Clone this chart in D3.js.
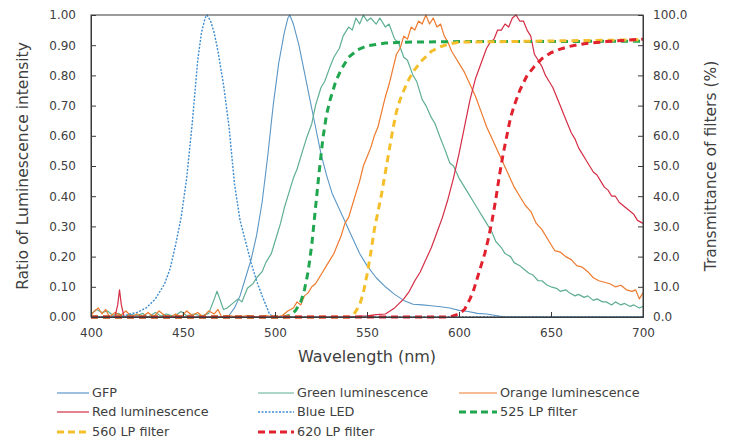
<!DOCTYPE html>
<html>
<head>
<meta charset="utf-8">
<script src="https://cdn.jsdelivr.net/npm/d3@7"></script>
<style>
  body { margin: 0; background: #fff; }
  text { font-family: "DejaVu Sans", sans-serif; fill: #404040; }
</style>
</head>
<body>
<div id="chart"></div>
<script>
// chart size
const width = 729;
const height = 441;
const margin = { top: 15, right: 86, bottom: 124, left: 91 };

// tick labels
const xTicks = [400, 450, 500, 550, 600, 650, 700];
const yLeftTicks = [0, 0.1, 0.2, 0.3, 0.4, 0.5, 0.6, 0.7, 0.8, 0.9, 1.0];
const yRightTicks = [0, 10, 20, 30, 40, 50, 60, 70, 80, 90, 100];

// spectra, [wavelength nm, ratio]
const gfp = [[400,0],[470,0],[475,0.005],[478,0.03],[481,0.07],[484,0.13],[487,0.19],[490,0.27],[493,0.38],[496,0.53],[499,0.70],[502,0.84],[505,0.94],[507,0.99],[508,1.0],[510,0.97],[513,0.90],[516,0.81],[519,0.72],[522,0.63],[525,0.54],[528,0.47],[531,0.41],[534,0.37],[537,0.33],[540,0.29],[543,0.25],[546,0.21],[550,0.17],[555,0.13],[560,0.10],[565,0.075],[570,0.055],[575,0.042],[580,0.04],[585,0.037],[590,0.034],[595,0.03],[600,0.022],[605,0.018],[610,0.012],[615,0.01],[620,0.005],[625,0],[700,0]];

const green = [[400,0.01],[403,0.025],[406,0.015],[409,0.02],[412,0.005],[415,0.012],[418,0.0],[421,0.01],[425,0.004],[428,0.012],[431,0.0],[435,0.015],[438,0.003],[441,0.01],[445,0.002],[449,0.018],[452,0.004],[456,0.01],[460,0.003],[464,0.012],[467,0.06],[468.5,0.085],[470,0.06],[472,0.025],[474,0.03],[477,0.045],[480,0.06],[482,0.05],[485,0.095],[488,0.11],[490,0.13],[493,0.15],[495,0.18],[498,0.21],[500,0.25],[503,0.31],[505,0.36],[507,0.40],[510,0.46],[512,0.49],[515,0.55],[517,0.59],[520,0.64],[522,0.70],[525,0.76],[527,0.78],[530,0.83],[532,0.86],[535,0.89],[537,0.93],[540,0.96],[542,0.95],[544,0.99],[546,0.97],[548,1.00],[550,0.98],[552,0.99],[555,0.97],[557,0.99],[560,0.96],[562,0.97],[565,0.92],[567,0.91],[570,0.86],[572,0.85],[575,0.80],[577,0.78],[580,0.72],[582,0.70],[585,0.66],[587,0.64],[590,0.59],[592,0.56],[595,0.51],[597,0.50],[600,0.46],[603,0.43],[605,0.41],[608,0.38],[610,0.36],[613,0.33],[615,0.31],[618,0.28],[620,0.25],[623,0.23],[625,0.21],[628,0.20],[630,0.18],[633,0.17],[635,0.16],[638,0.145],[640,0.14],[643,0.12],[645,0.12],[648,0.105],[650,0.10],[653,0.095],[655,0.085],[658,0.09],[660,0.08],[663,0.07],[665,0.075],[668,0.065],[670,0.07],[673,0.055],[675,0.06],[678,0.05],[680,0.05],[683,0.04],[685,0.05],[688,0.04],[690,0.045],[693,0.035],[695,0.04],[698,0.03],[700,0.035]];

const orange = [[400,0.005],[402,0.02],[404,0.03],[406,0.01],[408,0.025],[410,0.0],[413,0.015],[416,0.005],[419,0.02],[422,0.0],[425,0.01],[428,0.0],[431,0.015],[434,0.0],[437,0.02],[440,0.005],[443,0.0],[446,0.01],[449,0.0],[452,0.02],[455,0.005],[458,0.015],[461,0.0],[464,0.02],[467,0.01],[469,0.025],[471,0.0],[475,0.005],[480,0.0],[485,0.005],[490,0.0],[495,0.005],[500,0.0],[504,0.005],[507,0.02],[510,0.03],[512,0.05],[514,0.04],[516,0.07],[518,0.08],[520,0.10],[522,0.11],[524,0.13],[526,0.15],[528,0.17],[530,0.19],[532,0.21],[534,0.24],[536,0.27],[538,0.31],[540,0.33],[542,0.37],[544,0.41],[546,0.45],[548,0.50],[550,0.53],[552,0.56],[554,0.60],[556,0.63],[558,0.68],[560,0.73],[562,0.77],[564,0.82],[566,0.87],[568,0.89],[570,0.93],[572,0.92],[574,0.96],[576,0.95],[578,0.98],[580,0.97],[582,1.00],[584,0.97],[586,0.99],[588,0.96],[590,0.97],[592,0.93],[594,0.91],[596,0.88],[598,0.86],[600,0.84],[603,0.81],[606,0.77],[609,0.73],[612,0.68],[615,0.63],[618,0.59],[621,0.55],[624,0.51],[627,0.47],[630,0.43],[633,0.40],[636,0.37],[639,0.35],[642,0.31],[645,0.29],[648,0.26],[650,0.24],[652,0.22],[655,0.215],[658,0.20],[661,0.19],[664,0.17],[667,0.165],[670,0.15],[673,0.13],[676,0.12],[679,0.115],[682,0.11],[685,0.10],[688,0.105],[691,0.09],[694,0.085],[696,0.09],[698,0.06],[700,0.08]];

const red = [[400,0],[413,0],[414.5,0.04],[415.5,0.09],[416.5,0.04],[418,0],[540,0],[545,0.002],[550,0.004],[555,0.008],[560,0.01],[565,0.03],[570,0.06],[573,0.085],[576,0.12],[579,0.15],[582,0.19],[585,0.23],[588,0.28],[591,0.33],[594,0.39],[597,0.46],[600,0.54],[603,0.63],[606,0.72],[609,0.79],[612,0.84],[615,0.89],[617,0.91],[619,0.92],[621,0.95],[623,0.95],[625,0.97],[627,0.96],[629,0.99],[631,1.00],[633,0.98],[635,0.98],[637,0.95],[639,0.93],[641,0.87],[643,0.85],[645,0.83],[647,0.80],[649,0.78],[651,0.76],[653,0.73],[655,0.70],[657,0.67],[659,0.64],[661,0.61],[663,0.59],[665,0.56],[667,0.54],[669,0.52],[671,0.50],[673,0.48],[675,0.47],[677,0.45],[679,0.43],[681,0.42],[683,0.40],[685,0.40],[687,0.38],[689,0.37],[691,0.36],[693,0.35],[695,0.34],[697,0.32],[700,0.31]];

const blueLed = [[400,0],[415,0],[418,0.003],[420,0.008],[425,0.015],[430,0.03],[435,0.06],[440,0.11],[443,0.16],[446,0.24],[449,0.33],[452,0.46],[455,0.64],[458,0.85],[460,0.94],[462,0.99],[463,1.0],[465,0.98],[467,0.94],[469,0.88],[472,0.77],[475,0.63],[478,0.44],[481,0.32],[484,0.25],[487,0.18],[490,0.12],[493,0.07],[495,0.04],[497,0.01],[499,0],[700,0]];

// filters, [wavelength nm, transmittance %]
const lp525 = [[400,0],[505,0],[508,0.5],[511,2],[514,5],[516,9],[518,15],[520,24],[522,36],[524,48],[526,59],[528,67],[530,72],[533,78],[536,82],[540,86],[545,88.5],[550,89.8],[560,90.7],[570,91],[600,91.2],[700,91.3]];
const lp560 = [[400,0],[540,0],[543,1],[546,4],[548,8],[550,14],[552,21],[554,29],[556,35],[558,41],[560,48],[562,55],[564,62],[566,68],[568,72],[570,75],[573,79],[576,82],[580,85],[585,88],[590,89.5],[595,90.5],[600,91],[650,91.4],[700,91.8]];
const lp620 = [[400,0],[595,0],[600,1],[603,2.5],[606,6],[608,9],[610,13],[612,17],[614,21],[616,26],[618,32],[620,39],[622,47],[624,54],[626,60],[628,66],[630,70],[633,75],[637,80],[641,83],[645,85.5],[650,87.5],[655,88.7],[660,89.6],[668,90.5],[680,91.2],[700,92]];

// series styling + legend order
const series = [
  { name: "GFP", data: gfp, axis: "left", color: "#5b97c6", width: 1.1, dash: null },
  { name: "Green luminescence", data: green, axis: "left", color: "#5fae92", width: 1.2, dash: null },
  { name: "Orange luminescence", data: orange, axis: "left", color: "#ee7a2e", width: 1.2, dash: null },
  { name: "Red luminescence", data: red, axis: "left", color: "#d42d45", width: 1.2, dash: null },
  { name: "Blue LED", data: blueLed, axis: "left", color: "#3d8cd0", width: 1.4, dash: "2,1.5" },
  { name: "525 LP filter", data: lp525, axis: "right", color: "#1fa64e", width: 3, dash: "7,5" },
  { name: "560 LP filter", data: lp560, axis: "right", color: "#f4bf2a", width: 3, dash: "7,5" },
  { name: "620 LP filter", data: lp620, axis: "right", color: "#e1222e", width: 3, dash: "7,5" }
];

const svg = d3.select("#chart")
  .append("svg")
  .attr("width", width)
  .attr("height", height);

const w = width - margin.left - margin.right;
const h = height - margin.top - margin.bottom;

const g = svg.append("g")
  .attr("transform", `translate(${margin.left},${margin.top})`);

const x = d3.scaleLinear().domain([400, 700]).range([0, w]);
const yL = d3.scaleLinear().domain([0, 1]).range([h, 0]);
const yR = d3.scaleLinear().domain([0, 100]).range([h, 0]);

// lines
series.forEach(function(s) {
  const y = s.axis === "left" ? yL : yR;
  const line = d3.line()
    .x(function(d) { return x(d[0]); })
    .y(function(d) { return y(d[1]); });
  g.append("path")
    .datum(s.data)
    .attr("d", line)
    .attr("fill", "none")
    .attr("stroke", s.color)
    .attr("stroke-width", s.width)
    .attr("stroke-dasharray", s.dash)
    .attr("stroke-linejoin", "round");
});

// frame
g.append("rect")
  .attr("width", w)
  .attr("height", h)
  .attr("fill", "none")
  .attr("stroke", "#3a3a3a")
  .attr("stroke-width", 1);

// axes, ticks pointing inward
const xAxis = g.append("g")
  .attr("transform", `translate(0,${h})`)
  .call(d3.axisBottom(x).tickValues(xTicks).tickSize(-5).tickPadding(11));
const leftAxis = g.append("g")
  .call(d3.axisLeft(yL).tickValues(yLeftTicks).tickSize(-5).tickPadding(15).tickFormat(d3.format(".2f")));
const rightAxis = g.append("g")
  .attr("transform", `translate(${w},0)`)
  .call(d3.axisRight(yR).tickValues(yRightTicks).tickSize(-5).tickPadding(10).tickFormat(d3.format(".1f")));

[xAxis, leftAxis, rightAxis].forEach(function(a) {
  a.select(".domain").attr("stroke", "#3a3a3a");
  a.selectAll(".tick line").attr("stroke", "#3a3a3a");
  a.selectAll(".tick text")
    .style("font-family", "DejaVu Sans, sans-serif")
    .style("font-size", "12px")
    .attr("fill", "#4a4a4a");
});

// axis titles
svg.append("text")
  .attr("x", margin.left + w / 2)
  .attr("y", 362)
  .attr("text-anchor", "middle")
  .style("font-size", "16px")
  .text("Wavelength (nm)");

svg.append("text")
  .attr("transform", `translate(28,${margin.top + h / 2}) rotate(-90)`)
  .attr("text-anchor", "middle")
  .style("font-size", "15.5px")
  .text("Ratio of Luminescence intensity");

svg.append("text")
  .attr("transform", `translate(716,${margin.top + h / 2}) rotate(-90)`)
  .attr("text-anchor", "middle")
  .style("font-size", "15.5px")
  .text("Transmittance of filters (%)");

// legend, 3 columns
const legendCols = [{ x0: 57, x1: 89 }, { x0: 258, x1: 294 }, { x0: 459, x1: 497 }];
const legendRows = [393, 412, 432];

series.forEach(function(s, i) {
  const col = legendCols[i % 3];
  const rowY = legendRows[Math.floor(i / 3)];
  const item = svg.append("g");
  item.append("line")
    .attr("x1", col.x0)
    .attr("x2", col.x1)
    .attr("y1", rowY)
    .attr("y2", rowY)
    .attr("stroke", s.color)
    .attr("stroke-width", s.axis === "right" ? 3 : (s.dash ? 1.4 : 1.2))
    .attr("stroke-dasharray", s.axis === "right" ? "7,4" : s.dash);
  item.append("text")
    .attr("x", col.x1 + 3)
    .attr("y", rowY)
    .attr("dy", "0.35em")
    .style("font-size", "12.8px")
    .text(s.name);
});
</script>
</body>
</html>
